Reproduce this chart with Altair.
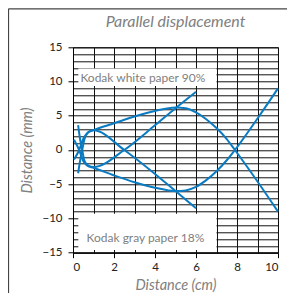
import altair as alt
import pandas as pd

# ---- data ----
white_x = [0.05, 0.3, 0.5, 0.7, 1.0, 2.0, 3.0, 4.0, 5.0, 5.5, 6.0, 6.5, 7.0, 7.5, 7.9, 9.0, 10.0]
white_upper_y = [-1.4, 0.0, 1.6, 2.5, 2.9, 3.9, 4.9, 5.7, 6.2, 6.1, 5.5, 4.5, 3.2, 1.6, 0.0, -4.6, -9.0]
white_lower_y = [1.5, 0.0, -1.6, -2.3, -2.6, -3.7, -4.7, -5.5, -6.0, -5.9, -5.4, -4.4, -3.1, -1.5, 0.0, 4.6, 9.0]

gray_x = [0.25, 0.35, 0.45, 0.55, 0.75, 1.0, 2.5, 4.0, 5.0, 6.0]
gray_a_y = [-3.4, -1.5, 0.0, 1.5, 2.6, 2.9, 0.0, -3.5, -6.0, -8.5]
gray_b_y = [3.65, 1.5, 0.0, -1.5, -2.3, -2.5, 0.0, 3.6, 6.1, 8.5]

label_text = ["Kodak white paper 90%", "Kodak gray paper 18%"]
label_x = [0.36, 0.66]
label_y = [10.55, -12.9]
box_x1 = [0.26, 0.26]
box_x2 = [7.0, 7.0]
box_y1 = [11.9, -9.3]
box_y2 = [9.35, -14.6]

x_ticks = list(range(0, 11))
y_ticks = list(range(-15, 16))

title_text = ["Parallel displacement"]
x_title = "Distance (cm)"
y_title = "Distance (mm)"

# ---- tables ----
rows = []
for name, xs, ys in [
    ("white_upper", white_x, white_upper_y),
    ("white_lower", white_x, white_lower_y),
    ("gray_a", gray_x, gray_a_y),
    ("gray_b", gray_x, gray_b_y),
]:
    for xv, yv in zip(xs, ys):
        rows.append({"series": name, "x": xv, "y": yv})
lines_df = pd.DataFrame(rows)

boxes_df = pd.DataFrame({"x1": box_x1, "x2": box_x2, "y1": box_y1, "y2": box_y2})
labels_df = pd.DataFrame({"text": label_text, "x": label_x, "y": label_y})
title_df = pd.DataFrame({"text": title_text})
one = pd.DataFrame({"a": [0]})

FONT = "Lato"
GRAYTXT = "#808080"
BLUE = "#0a7bc2"

xscale = alt.Scale(domain=[0, 10], nice=False, zero=False)
yscale = alt.Scale(domain=[-15, 15], nice=False, zero=False)

x_axis = alt.Axis(
    values=x_ticks, tickCount=50, format="d",
    grid=True, gridColor="#111", gridWidth=1,
    labelOverlap=False,
    labelExpr="datum.value % 2 == 0 ? datum.label : ''",
    tickOpacity={"condition": {"test": "datum.value % 2 != 0", "value": 0}, "value": 1},
    tickSize=5, tickColor="#000", domainColor="#000",
    labelFont=FONT, labelFontSize=11.5, labelColor="#222", labelPadding=4,
    title=x_title, titleFont=FONT, titleFontSize=14.5, titleFontStyle="italic",
    titleFontWeight="normal", titleColor=GRAYTXT,
    titleY=33, titleBaseline="middle",
)
y_axis = alt.Axis(
    values=y_ticks, tickCount=50, format="d",
    grid=True, gridColor="#111", gridWidth=1,
    labelOverlap=False,
    labelExpr="datum.value % 5 == 0 ? datum.label : ''",
    tickOpacity={"condition": {"test": "datum.value % 5 != 0", "value": 0}, "value": 1},
    tickSize=5, tickColor="#000", domainColor="#000",
    labelFont=FONT, labelFontSize=11.5, labelColor="#222", labelPadding=6,
    title=y_title, titleFont=FONT, titleFontSize=14.5, titleFontStyle="italic",
    titleFontWeight="normal", titleColor=GRAYTXT,
    titleX=-46, titleY=102.7, titleAngle=270, titleAlign="center", titleBaseline="middle",
)

boxes = alt.Chart(boxes_df).mark_rect(color="white").encode(
    x=alt.X("x1:Q", scale=xscale, axis=x_axis),
    x2="x2:Q",
    y=alt.Y("y1:Q", scale=yscale, axis=y_axis),
    y2="y2:Q",
)

labels = alt.Chart(labels_df).mark_text(
    align="left", baseline="middle", font=FONT, fontSize=12, color=GRAYTXT
).encode(
    x=alt.X("x:Q", scale=xscale),
    y=alt.Y("y:Q", scale=yscale),
    text="text:N",
)

lines = alt.Chart(lines_df).mark_line(strokeWidth=2, interpolate="monotone").encode(
    x=alt.X("x:Q", scale=xscale),
    y=alt.Y("y:Q", scale=yscale),
    detail="series:N",
    color=alt.value(BLUE),
)

title_mark = alt.Chart(title_df).mark_text(
    align="center", baseline="alphabetic", font=FONT, fontSize=16,
    fontStyle="italic", color=GRAYTXT
).encode(
    x=alt.value(102.5), y=alt.value(-20), text="text:N"
)

border_left = alt.Chart(one).mark_rule(color="#444", strokeWidth=1.2).encode(
    x=alt.value(-64.5), y=alt.value(-38.5), y2=alt.value(260)
)
border_top = alt.Chart(one).mark_rule(color="#444", strokeWidth=1.2).encode(
    x=alt.value(-64.5), x2=alt.value(214), y=alt.value(-38.5)
)

chart = alt.layer(boxes, labels, lines, title_mark, border_left, border_top).properties(
    width=205,
    height=205.4,
    autosize=alt.AutoSizeParams(type="none"),
    padding={"left": 65, "top": 39.3, "right": 9, "bottom": 40},
).configure_view(stroke="#000", strokeWidth=1)

chart.save("out.html", embed_options={"renderer": "svg", "actions": False})
